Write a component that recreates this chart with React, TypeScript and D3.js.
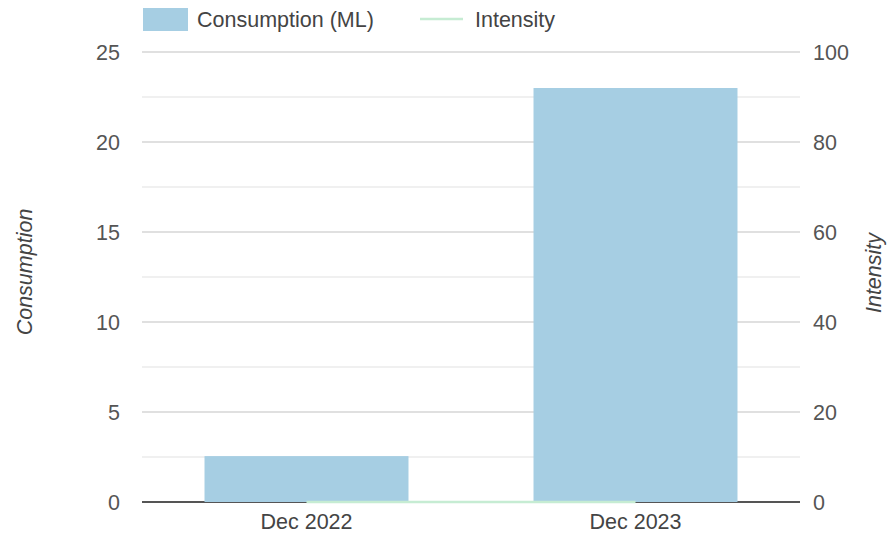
import React from "react";
import * as d3 from "d3";

const categories = ["Dec 2022", "Dec 2023"];
const consumption = [2.55, 23.0];
const intensity = [0, 0];
const leftTicks = [0, 5, 10, 15, 20, 25];
const rightTicks = [0, 20, 40, 60, 80, 100];
const minorTicks = [2.5, 7.5, 12.5, 17.5, 22.5];

const W = 888, H = 535;
const M = { left: 142, right: 88, top: 52, bottom: 33 };
const FONT = "'Liberation Sans', Arial, sans-serif";
const FS = 21.5;

export default function App() {
  const x = d3.scaleBand<string>().domain(categories).range([M.left, W - M.right]).paddingInner(0.38).paddingOuter(0.19);
  const yL = d3.scaleLinear().domain([0, 25]).range([H - M.bottom, M.top]);
  const yR = d3.scaleLinear().domain([0, 100]).range([H - M.bottom, M.top]);
  const line = d3.line<number>().x((_, i) => (x(categories[i]) as number) + x.bandwidth() / 2).y((d) => yR(d));
  const x0 = M.left, x1 = W - M.right;
  return (
    <svg width={W} height={H} style={{ position: "absolute", left: 0, top: 0, background: "#fff" }} fontFamily={FONT}>
      {minorTicks.map((t) => (
        <line key={"m" + t} x1={x0} x2={x1} y1={yL(t)} y2={yL(t)} stroke="#ebebeb" strokeWidth={1.5} />
      ))}
      {leftTicks.map((t) => (
        <line key={"g" + t} x1={x0} x2={x1} y1={yL(t)} y2={yL(t)} stroke={t === 0 ? "#555" : "#d6d6d6"} strokeWidth={t === 0 ? 2 : 1.5} />
      ))}
      {categories.map((c, i) => (
        <rect key={c} x={x(c)} width={x.bandwidth()} y={yL(consumption[i])} height={yL(0) - yL(consumption[i])} fill="#a6cee3" />
      ))}
      <path d={line(intensity) || ""} fill="none" stroke="#c6ecd3" strokeWidth={2.5} />
      {leftTicks.map((t) => (
        <text key={"l" + t} x={120} y={yL(t)} dy="0.35em" textAnchor="end" fontSize={FS} fill="#555">{t}</text>
      ))}
      {rightTicks.map((t) => (
        <text key={"r" + t} x={813} y={yR(t)} dy="0.35em" textAnchor="start" fontSize={FS} fill="#555">{t}</text>
      ))}
      {categories.map((c) => (
        <text key={"x" + c} x={(x(c) as number) + x.bandwidth() / 2} y={529} textAnchor="middle" fontSize={FS} fill="#444">{c}</text>
      ))}
      <text transform={`translate(32,272) rotate(-90)`} textAnchor="middle" fontSize={FS} fontStyle="italic" fill="#444">Consumption</text>
      <text transform={`translate(881,273) rotate(-90)`} textAnchor="middle" fontSize={FS} fontStyle="italic" fill="#444">Intensity</text>
      <rect x={143} y={8} width={45} height={23} fill="#a6cee3" />
      <text x={197} y={27} fontSize={FS} fill="#444">Consumption (ML)</text>
      <line x1={420} x2={463} y1={19} y2={19} stroke="#c6ecd3" strokeWidth={2.5} />
      <text x={475} y={27} fontSize={FS} fill="#444">Intensity</text>
    </svg>
  );
}
